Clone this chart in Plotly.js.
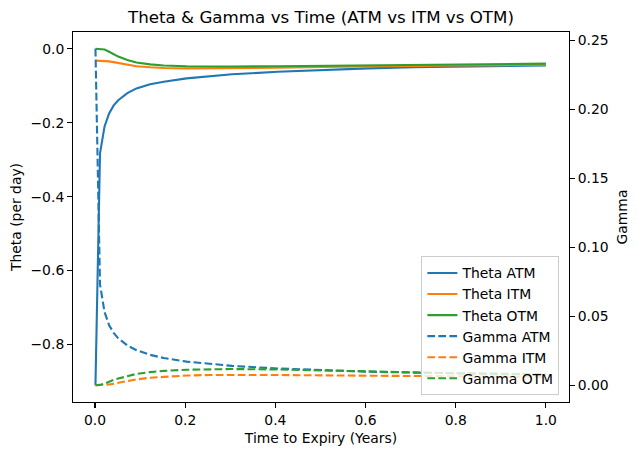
<!DOCTYPE html>
<html>
<head>
<meta charset="utf-8">
<script src="https://cdn.plot.ly/plotly-3.0.1.min.js"></script>
<style>
  html, body { margin: 0; padding: 0; background: #fff; }
  #chart { width: 638px; height: 455px; }
</style>
</head>
<body>
<div id="chart"></div>
<script>
// time to expiry (years)
var time = [0.001, 0.0111, 0.0212, 0.0313, 0.0414, 0.0515, 0.0717, 0.0919, 0.1222, 0.1525,
            0.2030, 0.2535, 0.3040, 0.4050, 0.5050, 0.6060, 0.7070, 0.8080, 0.9090, 1.0];

// theta per day
var thetaATM = [-0.910, -0.283, -0.210, -0.175, -0.153, -0.139, -0.120, -0.107, -0.096, -0.089,
                -0.080, -0.074, -0.069, -0.062, -0.057, -0.053, -0.050, -0.048, -0.046, -0.045];
var thetaITM = [-0.032, -0.032, -0.033, -0.034, -0.036, -0.038, -0.043, -0.047, -0.050, -0.052,
                -0.053, -0.053, -0.053, -0.051, -0.049, -0.047, -0.046, -0.045, -0.044, -0.043];
var thetaOTM = [0.000, 0.000, -0.002, -0.008, -0.015, -0.021, -0.030, -0.037, -0.042, -0.045,
                -0.047, -0.048, -0.048, -0.047, -0.046, -0.044, -0.043, -0.042, -0.041, -0.040];

// gamma
var gammaATM = [0.244, 0.073, 0.053, 0.0435, 0.038, 0.034, 0.0288, 0.0254, 0.0220, 0.0197,
                0.0171, 0.0153, 0.0140, 0.0121, 0.0108, 0.0098, 0.0091, 0.0085, 0.0081, 0.0077];
var gammaITM = [0.0, 0.0, 0.0001, 0.0005, 0.0011, 0.0018, 0.0031, 0.0042, 0.0054, 0.0062,
                0.0070, 0.0074, 0.0075, 0.0074, 0.0071, 0.0068, 0.0065, 0.0063, 0.0061, 0.0060];
var gammaOTM = [0.0, 0.0002, 0.0012, 0.0026, 0.0038, 0.0048, 0.0066, 0.0082, 0.0095, 0.0104,
                0.0112, 0.0116, 0.0117, 0.0114, 0.0106, 0.0097, 0.0091, 0.0086, 0.0083, 0.0080];

var blue = '#1f77b4', orange = '#ff7f0e', green = '#2ca02c';
var dash = '7.7px,3.3px';

function line(name, y, color, axis, dashed) {
    return {
        type: 'scatter',
        mode: 'lines',
        name: name,
        legendgroup: name,
        x: time,
        y: y,
        yaxis: axis,
        line: {color: color, width: 2.1, dash: dashed ? dash : 'solid'}
    };
}

var plotData = [
    line('Theta ATM', thetaATM, blue, 'y', false),
    line('Theta ITM', thetaITM, orange, 'y', false),
    line('Theta OTM', thetaOTM, green, 'y', false),
    line('Gamma ATM', gammaATM, blue, 'y2', true),
    line('Gamma ITM', gammaITM, orange, 'y2', true),
    line('Gamma OTM', gammaOTM, green, 'y2', true)
];

var tickFont = {family: 'DejaVu Sans', size: 13.9, color: '#000'};

var axisCommon = {
    showgrid: false,
    zeroline: false,
    showline: true,
    linecolor: '#000',
    linewidth: 1.1,
    ticks: 'outside',
    ticklen: 4.9,
    tickwidth: 1.1,
    tickcolor: '#000',
    tickfont: tickFont
};

var layout = {
    width: 638,
    height: 455,
    margin: {l: 73.3, r: 68.7, t: 32.3, b: 52.7, pad: 0},
    paper_bgcolor: '#fff',
    plot_bgcolor: '#fff',
    font: {family: 'DejaVu Sans', color: '#000'},
    title: {
        text: 'Theta & Gamma vs Time (ATM vs ITM vs OTM)',
        font: {family: 'DejaVu Sans', size: 16.7, color: '#000'},
        xref: 'paper', x: 0.5, xanchor: 'center',
        yref: 'container', y: 1 - 17 / 455, yanchor: 'middle'
    },
    xaxis: Object.assign({}, axisCommon, {
        range: [-0.0488, 1.0512],
        tickvals: [0, 0.2, 0.4, 0.6, 0.8, 1.0],
        tickformat: '.1f',
        mirror: true,
        title: {text: 'Time to Expiry (Years)', font: {family: 'DejaVu Sans', size: 13.9}, standoff: 6}
    }),
    yaxis: Object.assign({}, axisCommon, {
        range: [-0.9555, 0.0455],
        tickvals: [0, -0.2, -0.4, -0.6, -0.8],
        tickformat: '.1f',
        title: {text: 'Theta (per day)', font: {family: 'DejaVu Sans', size: 13.9}, standoff: 5}
    }),
    yaxis2: Object.assign({}, axisCommon, {
        overlaying: 'y',
        side: 'right',
        range: [-0.0122, 0.2562],
        tickvals: [0, 0.05, 0.1, 0.15, 0.2, 0.25],
        tickformat: '.2f',
        title: {text: 'Gamma', font: {family: 'DejaVu Sans', size: 13.9}, standoff: 9}
    }),
    showlegend: true,
    legend: {
        x: 0.7024, xanchor: 'left',
        y: 0.0178, yanchor: 'bottom',
        bgcolor: 'rgba(255,255,255,0.8)',
        bordercolor: '#cccccc',
        borderwidth: 1,
        font: {family: 'DejaVu Sans', size: 13.9, color: '#000'},
        traceorder: 'grouped',
        tracegroupgap: 0
    }
};

Plotly.newPlot('chart', plotData, layout, {displayModeBar: false, staticPlot: true});
</script>
</body>
</html>
